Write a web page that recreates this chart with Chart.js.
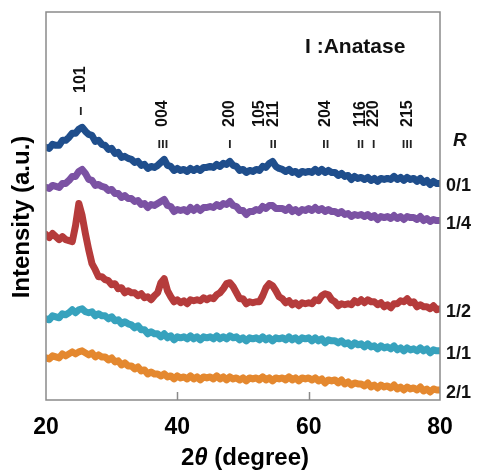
<!DOCTYPE html>
<html>
<head>
<meta charset="utf-8">
<script src="https://cdn.jsdelivr.net/npm/chart.js@4.4.1/dist/chart.umd.min.js"></script>
<style>
  html, body { margin: 0; padding: 0; background: #fff; }
  #wrap { width: 481px; height: 473px; }
</style>
</head>
<body>
<div id="wrap"><canvas id="xrd" width="481" height="473"></canvas></div>
<script>
  // 2theta (degree), 0.5 step
  var theta = [
    20, 20.5, 21, 21.5, 22, 22.5, 23, 23.5, 24, 24.5,
    25, 25.5, 26, 26.5, 27, 27.5, 28, 28.5, 29, 29.5,
    30, 30.5, 31, 31.5, 32, 32.5, 33, 33.5, 34, 34.5,
    35, 35.5, 36, 36.5, 37, 37.5, 38, 38.5, 39, 39.5,
    40, 40.5, 41, 41.5, 42, 42.5, 43, 43.5, 44, 44.5,
    45, 45.5, 46, 46.5, 47, 47.5, 48, 48.5, 49, 49.5,
    50, 50.5, 51, 51.5, 52, 52.5, 53, 53.5, 54, 54.5,
    55, 55.5, 56, 56.5, 57, 57.5, 58, 58.5, 59, 59.5,
    60, 60.5, 61, 61.5, 62, 62.5, 63, 63.5, 64, 64.5,
    65, 65.5, 66, 66.5, 67, 67.5, 68, 68.5, 69, 69.5,
    70, 70.5, 71, 71.5, 72, 72.5, 73, 73.5, 74, 74.5,
    75, 75.5, 76, 76.5, 77, 77.5, 78, 78.5, 79, 79.5,
    80
  ];

  // intensity (a.u., stacked with offsets as in the figure)
  var r01 = [
    252, 251, 255, 254, 254, 259, 259, 262, 266, 266,
    270, 272, 268, 265, 264, 258, 259, 255, 254, 250,
    251, 246, 247, 242, 243, 241, 240, 237, 238, 234,
    235, 231, 233, 232, 234, 237, 240, 234, 233, 229,
    231, 229, 230, 228, 231, 229, 231, 229, 232, 232,
    233, 232, 235, 233, 236, 235, 238, 234, 233, 229,
    230, 227, 229, 228, 230, 229, 233, 232, 236, 238,
    233, 231, 230, 228, 230, 227, 228, 225, 228, 227,
    228, 227, 230, 227, 230, 227, 229, 227, 227, 224,
    226, 223, 224, 220, 223, 221, 222, 220, 222, 219,
    221, 218, 221, 220, 221, 220, 223, 220, 222, 219,
    222, 220, 221, 218, 221, 217, 219, 215, 218, 216,
    216
  ];
  var r14 = [
    212, 211, 214, 213, 212, 216, 216, 219, 223, 223,
    228, 230, 226, 220, 219, 214, 215, 213, 212, 209,
    210, 206, 206, 202, 204, 201, 201, 198, 199, 195,
    196, 192, 195, 194, 196, 198, 200, 194, 193, 188,
    190, 189, 190, 188, 192, 189, 192, 189, 192, 192,
    193, 192, 195, 193, 196, 195, 198, 194, 193, 189,
    189, 185, 188, 188, 190, 189, 193, 191, 194, 194,
    191, 191, 191, 189, 192, 188, 190, 187, 190, 189,
    191, 189, 192, 189, 191, 188, 190, 188, 188, 186,
    188, 185, 186, 183, 185, 184, 185, 183, 185, 182,
    184, 180, 183, 182, 183, 181, 184, 181, 183, 180,
    183, 182, 182, 180, 183, 179, 181, 178, 180, 179,
    179
  ];
  var r12 = [
    165, 162, 166, 163, 160, 163, 160, 159, 158, 174,
    196, 184, 166, 150, 136, 130, 123, 123, 120, 119,
    115, 116, 111, 112, 107, 109, 107, 107, 104, 106,
    102, 103, 100, 104, 107, 117, 121, 109, 103, 98,
    100, 97, 99, 96, 100, 99, 100, 99, 102, 100,
    102, 101, 105, 107, 111, 116, 117, 113, 107, 101,
    101, 96, 98, 97, 98, 98, 104, 112, 116, 114,
    109, 103, 101, 97, 99, 95, 97, 94, 97, 96,
    97, 96, 100, 99, 104, 106, 105, 100, 98, 94,
    96, 95, 96, 95, 99, 97, 100, 97, 100, 98,
    98, 95, 97, 93, 95, 92, 96, 96, 99, 98,
    101, 97, 98, 93, 95, 93, 93, 91, 94, 90,
    91
  ];
  var r11 = [
    81, 80, 84, 83, 82, 86, 85, 87, 90, 87,
    90, 91, 88, 87, 88, 84, 86, 84, 84, 81,
    83, 79, 80, 76, 78, 76, 75, 72, 74, 70,
    70, 66, 68, 66, 66, 63, 66, 62, 64, 60,
    63, 62, 63, 61, 64, 61, 63, 60, 63, 62,
    63, 61, 64, 61, 63, 61, 64, 62, 63, 60,
    62, 59, 62, 61, 62, 60, 63, 60, 62, 59,
    62, 61, 62, 60, 63, 60, 62, 59, 62, 61,
    62, 59, 62, 59, 61, 57, 60, 59, 59, 57,
    59, 56, 57, 54, 57, 55, 56, 53, 56, 53,
    54, 51, 54, 52, 53, 51, 54, 50, 52, 49,
    52, 50, 51, 49, 52, 49, 51, 47, 50, 49,
    49
  ];
  var r21 = [
    42, 41, 44, 43, 42, 46, 44, 46, 48, 46,
    48, 49, 47, 45, 47, 43, 45, 43, 43, 40,
    42, 38, 39, 35, 37, 34, 34, 31, 33, 29,
    30, 26, 28, 26, 26, 24, 26, 23, 24, 21,
    24, 22, 23, 21, 24, 21, 23, 20, 23, 22,
    23, 21, 24, 21, 23, 20, 23, 21, 22, 20,
    22, 19, 22, 21, 22, 20, 23, 20, 22, 19,
    22, 21, 22, 20, 23, 20, 22, 19, 22, 21,
    22, 20, 22, 19, 21, 17, 20, 19, 20, 17,
    20, 16, 18, 15, 17, 16, 16, 14, 17, 13,
    15, 12, 15, 13, 14, 12, 15, 11, 13, 10,
    13, 11, 12, 10, 13, 9, 11, 8, 11, 10,
    10
  ];

  var ratioLabels = ["0/1", "1/4", "1/2", "1/1", "2/1"];
  var seriesColors = ["#1f4e8c", "#7b52a3", "#b53b3b", "#37a2bd", "#e4882f"];

  // anatase reflections: label position (degree), hkl, number of bars
  var peakPos = [25.3, 37.8, 48.0, 52.5, 54.6, 62.6, 67.9, 69.9, 75.0];
  var peakHkl = ["101", "004", "200", "105", "211", "204", "116", "220", "215"];
  var peakBars = [1, 3, 1, 0, 2, 2, 2, 1, 3];

  var xTicks = [20, 40, 60, 80];

  var FONT = "'Liberation Sans', Arial, sans-serif";

  function toPoints(arr) {
    return arr.map(function (v, i) { return { x: theta[i], y: v }; });
  }

  var allSeries = [r01, r14, r12, r11, r21];

  var decor = {
    id: "decor",
    afterDraw: function (chart) {
      var ctx = chart.ctx;
      var a = chart.chartArea;
      var xs = chart.scales.x;
      var ys = chart.scales.y;
      ctx.save();

      // plot frame
      ctx.strokeStyle = "#8a8a8a";
      ctx.lineWidth = 1.5;
      ctx.strokeRect(a.left, a.top, a.right - a.left, a.bottom - a.top);

      // inward tick marks
      ctx.beginPath();
      xTicks.forEach(function (v) {
        if (v === xs.min || v === xs.max) return;
        var px = Math.round(xs.getPixelForValue(v)) + 0.5;
        ctx.moveTo(px, a.bottom);
        ctx.lineTo(px, a.bottom - 8);
      });
      ctx.stroke();

      ctx.fillStyle = "#111";
      ctx.strokeStyle = "#222";

      // hkl labels, rotated
      ctx.font = "bold 16px " + FONT;
      peakPos.forEach(function (p, i) {
        var px = xs.getPixelForValue(p);
        var bottom = i === 0 ? 93 : 127;
        var markY = i === 0 ? 107 : 140;
        ctx.save();
        ctx.translate(px, bottom);
        ctx.rotate(-Math.PI / 2);
        ctx.textAlign = "left";
        ctx.textBaseline = "middle";
        ctx.fillText(peakHkl[i], 0, 0);
        ctx.restore();

        var n = peakBars[i];
        ctx.lineWidth = 1.8;
        ctx.beginPath();
        for (var k = 0; k < n; k++) {
          var bx = px + (k - (n - 1) / 2) * 3.6;
          ctx.moveTo(bx, markY);
          ctx.lineTo(bx, markY + 8);
        }
        ctx.stroke();
      });

      // legend note
      ctx.font = "bold 21px " + FONT;
      ctx.textAlign = "left";
      ctx.textBaseline = "alphabetic";
      ctx.fillText("I :Anatase", 305, 53);

      // R and ratio labels at curve ends
      ctx.font = "italic bold 19px " + FONT;
      ctx.textBaseline = "middle";
      ctx.fillText("R", 453, 141);
      ctx.font = "bold 18px " + FONT;
      allSeries.forEach(function (s, i) {
        var py = ys.getPixelForValue(s[s.length - 1]) + 3;
        ctx.fillText(ratioLabels[i], 446, py);
      });

      // y title
      ctx.save();
      ctx.translate(29, 217);
      ctx.rotate(-Math.PI / 2);
      ctx.font = "bold 24px " + FONT;
      ctx.textAlign = "center";
      ctx.textBaseline = "alphabetic";
      ctx.fillStyle = "#000";
      ctx.fillText("Intensity (a.u.)", 0, 0);
      ctx.restore();

      // x title, theta in italics
      var parts = [
        { t: "2", f: "bold 24px " + FONT },
        { t: "\u03B8", f: "italic bold 24px " + FONT },
        { t: " (degree)", f: "bold 24px " + FONT }
      ];
      var total = 0;
      parts.forEach(function (p) { ctx.font = p.f; p.w = ctx.measureText(p.t).width; total += p.w; });
      var cx = (a.left + a.right) / 2 + 2 - total / 2;
      ctx.fillStyle = "#000";
      ctx.textAlign = "left";
      ctx.textBaseline = "alphabetic";
      parts.forEach(function (p) { ctx.font = p.f; ctx.fillText(p.t, cx, 465); cx += p.w; });

      ctx.restore();
    }
  };

  var datasets = allSeries.map(function (s, i) {
    return {
      label: ratioLabels[i],
      data: toPoints(s),
      borderColor: seriesColors[i],
      borderWidth: 7,
      borderJoinStyle: "round",
      borderCapStyle: "round",
      pointRadius: 0,
      tension: 0,
      fill: false
    };
  });

  new Chart(document.getElementById("xrd"), {
    type: "line",
    data: { datasets: datasets },
    options: {
      responsive: false,
      animation: false,
      devicePixelRatio: 1,
      layout: { padding: { left: 46, right: 41, top: 12, bottom: 0 } },
      plugins: { legend: { display: false }, tooltip: { enabled: false } },
      scales: {
        x: {
          type: "linear",
          min: 20,
          max: 80,
          afterFit: function (scale) { scale.height = 73; },
          afterBuildTicks: function (scale) {
            scale.ticks = xTicks.map(function (v) { return { value: v }; });
          },
          grid: { display: false, drawTicks: false },
          border: { display: false },
          ticks: {
            padding: 14,
            maxRotation: 0,
            color: "#000",
            font: { family: FONT, size: 23, weight: "bold" }
          }
        },
        y: {
          display: false,
          min: 0,
          max: 387
        }
      }
    },
    plugins: [decor]
  });
</script>
</body>
</html>
